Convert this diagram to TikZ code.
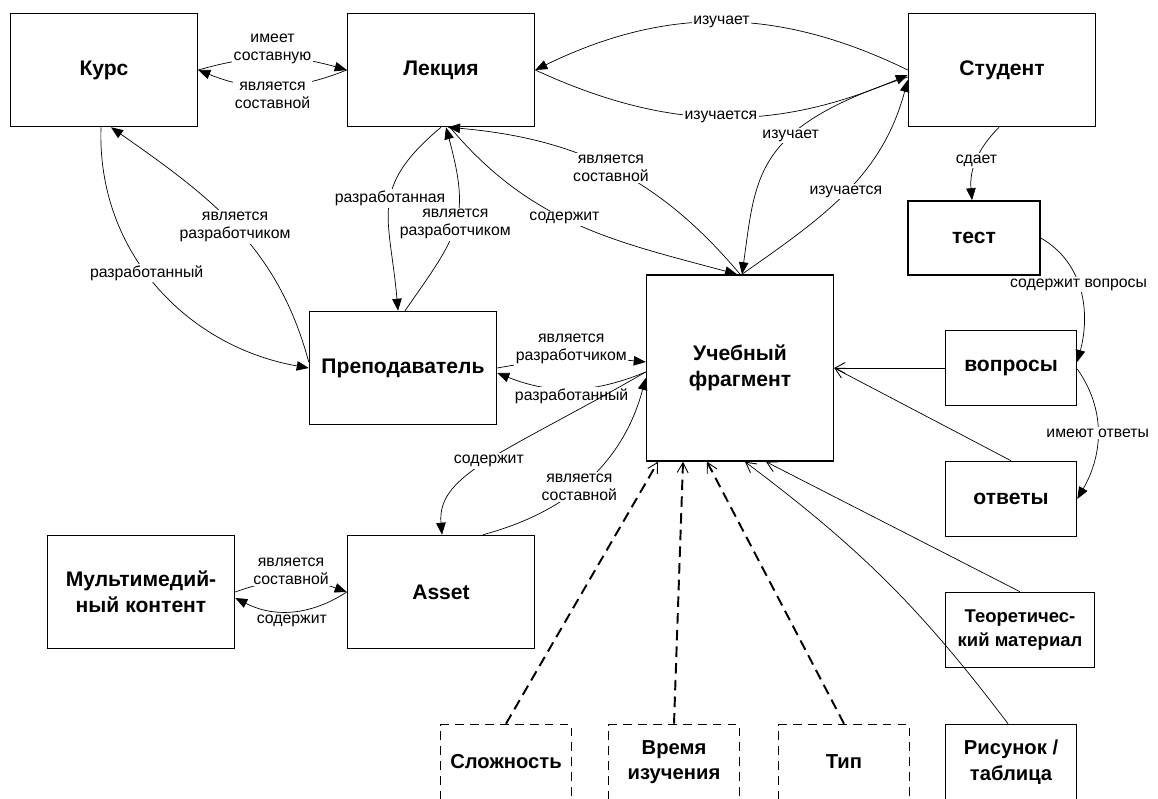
\documentclass[tikz,border=0pt]{standalone}
\usepackage{fontspec}
\setmainfont{Liberation Sans}
\usetikzlibrary{arrows.meta}

\tikzset{
  box/.style={draw, line width=0.9pt, font=\fontsize{12}{15}\selectfont\bfseries,
    align=center, minimum width=3.74cm, minimum height=2.26cm, inner sep=2pt},
  smallbox/.style={box, minimum width=2.62cm, minimum height=1.5cm},
  lowbox/.style={smallbox, font=\fontsize{11.5}{14.5}\selectfont\bfseries},
  attr/.style={lowbox, dash pattern=on 5pt off 3.5pt},
  rel/.style={line width=0.4pt, -{Triangle[length=2.4mm,width=1.9mm]}},
  part/.style={line width=0.4pt, -{Straight Barb[length=2mm,width=2.2mm,line width'=0.5pt]}},
  attrline/.style={part, line width=1.1pt, dash pattern=on 6pt off 3.5pt},
  lbl/.style={font=\fontsize{9}{10.2}\selectfont, fill=white, inner sep=1pt, align=center}
}

\begin{document}
\begin{tikzpicture}[x=0.02cm,y=0.02cm]
\clip (0,0) rectangle (1158,798);
\fill[white] (0,0) rectangle (1158,798);

\node[box] (kurs) at (104,728) {Курс};
\node[box] (lekc) at (441,728) {Лекция};
\node[box] (stud) at (1002,728) {Студент};
\node[box, minimum width=2.64cm, minimum height=1.48cm] (test) at (974,560) {тест};
\node[box] (prep) at (403,430) {Преподаватель};
\node[box, minimum height=3.72cm] (frag) at (740,430) {Учебный\\фрагмент};
\node[smallbox] (vopr) at (1011,430) {вопросы};
\node[smallbox] (otv) at (1011,299) {ответы};
\node[smallbox, minimum width=2.98cm, font=\fontsize{10.5}{13.5}\selectfont\bfseries] (teor) at (1020,168) {Теоретичес-\\кий материал};
\node[box] (asset) at (441,206) {Asset};
\node[box] (mult) at (141,206) {Мультимедий-\\ный контент};
\node[lowbox] (ris) at (1011,36) {Рисунок /\\таблица};
\node[attr] (slozh) at (506,36) {Сложность};
\node[attr] (vrem) at (674,36) {Время\\изучения};
\node[attr] (tip) at (844,36) {Тип};

% Курс - Лекция - Студент
\draw[rel] (kurs.east) to[bend left=16] node[lbl,yshift=1.8mm]{имеет\\составную} (lekc.west);
\draw[rel] (lekc.west) to[bend left=22] node[lbl,yshift=-1.8mm]{является\\составной} (kurs.east);
\draw[rel] (stud.west) to[bend right=26] node[lbl]{изучает} (lekc.east);
\draw[rel] (lekc.east) to[bend right=24] node[lbl]{изучается} ([yshift=-1mm]stud.west);

% Студент - Учебный фрагмент
\draw[rel] ([yshift=-1.4mm]stud.west) to[out=198,in=82,out looseness=1.6] node[lbl,pos=.38]{изучает} ([xshift=0.4mm]frag.north);
\draw[rel] ([xshift=0.4mm]frag.north) to[out=35,in=255] node[lbl]{изучается} ([yshift=-2mm]stud.west);

% Лекция - Учебный фрагмент
\draw[rel] (frag.north) to[out=130,in=-5] node[lbl]{является\\составной} ([xshift=1.4mm]lekc.south);
\draw[rel] ([xshift=1.8mm]lekc.south) to[out=-50,in=165] node[lbl,pos=.45]{содержит} ([xshift=-0.6mm]frag.north);

% Преподаватель
\draw[rel] (lekc.south) to[out=220,in=95,looseness=1.3] node[lbl,pos=.45]{разработанная} ([xshift=-1mm]prep.north);
\draw[rel] ([xshift=0.4mm]prep.north) to[out=55,in=-75,looseness=1.3] node[lbl]{является\\разработчиком} ([xshift=1mm]lekc.south);
\draw[rel] ([yshift=1.2mm]prep.west) to[out=105,in=-35] node[lbl]{является\\разработчиком} ([xshift=1.4mm]kurs.south);
\draw[rel] ([xshift=-0.6mm]kurs.south) to[out=-92,in=170] node[lbl,pos=.45]{разработанный} (prep.west);
\draw[rel] (prep.east) to[bend left=8] node[lbl,yshift=2mm]{является\\разработчиком} ([yshift=1.2mm]frag.west);
\draw[rel] ([yshift=-0.8mm]frag.west) to[bend left=22] node[lbl,yshift=-1.5mm]{разработанный} ([yshift=-1mm]prep.east);

% Asset
\draw[rel] ([yshift=-0.8mm]frag.west) to[out=210,in=95,out looseness=1.6,in looseness=0.6] node[lbl]{содержит} ([xshift=0.2mm]asset.north);
\draw[rel] ([xshift=0.84cm]asset.north) to[out=15,in=-105] node[lbl,pos=.45]{является\\составной} ([yshift=-2mm]frag.west);
\draw[rel] (mult.east) to[bend left=20] node[lbl,yshift=1.9mm]{является\\составной} (asset.west);
\draw[rel] (asset.west) to[bend left=30] node[lbl,yshift=-2mm]{содержит} ([yshift=-1.2mm]mult.east);

% тест
\draw[rel] ([xshift=-0.6mm]stud.south) to[out=225,in=95] node[lbl]{сдает} ([xshift=-0.4mm]test.north);
\draw[rel] (test.east) to[out=-30,in=75] node[lbl,pos=.45]{содержит вопросы} ([yshift=1.2mm]vopr.east);
\draw[rel] ([yshift=-0.2mm]vopr.east) to[out=-55,in=60] node[lbl]{имеют ответы} (otv.east);

% части учебного фрагмента
\draw[part] (vopr.west) -- (frag.east);
\draw[part] (otv.north) -- (frag.east);
\draw[part] (teor.north) -- ([xshift=0.52cm]frag.south);
\draw[part] ([xshift=-0.06cm]ris.north) to[bend right=8] ([xshift=0.1cm]frag.south);
\draw[attrline] (slozh.north) -- ([xshift=-1.64cm]frag.south);
\draw[attrline] (vrem.north) -- ([xshift=-1.14cm]frag.south);
\draw[attrline] (tip.north) -- ([xshift=-0.66cm]frag.south);
\end{tikzpicture}
\end{document}
